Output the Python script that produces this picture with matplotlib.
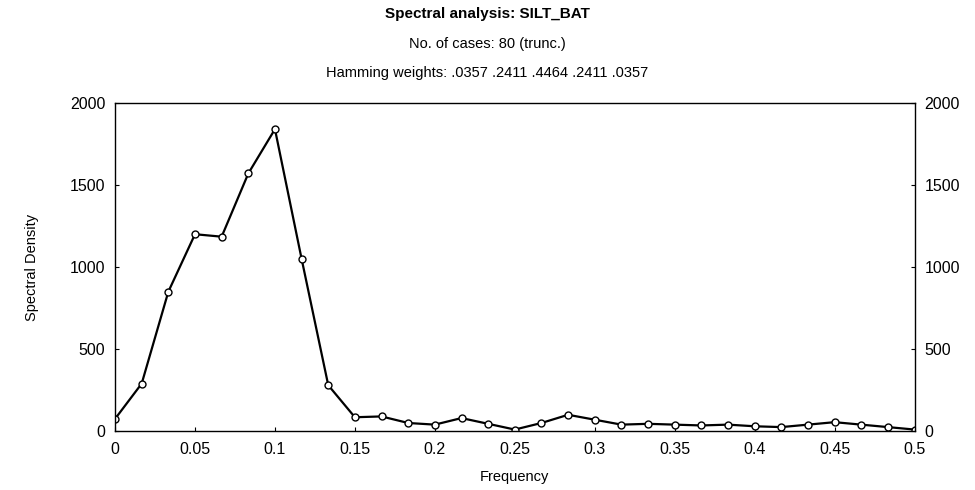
import matplotlib.pyplot as plt

plt.rcParams['font.family'] = ['Liberation Sans', 'DejaVu Sans']

# periodogram frequencies k/60, 0 .. 0.5
n_freq = 31
freq = [k / 60 for k in range(n_freq)]
density = [75, 290, 850, 1200, 1185, 1570, 1840, 1050, 280, 85,
           90, 50, 40, 80, 45, 10, 50, 100, 70, 40,
           45, 40, 35, 40, 30, 25, 40, 55, 40, 25, 10]

x_ticks = [0, 0.05, 0.1, 0.15, 0.2, 0.25, 0.3, 0.35, 0.4, 0.45, 0.5]
x_tick_labels = ['0', '0.05', '0.1', '0.15', '0.2', '0.25', '0.3', '0.35', '0.4', '0.45', '0.5']
y_ticks = [0, 500, 1000, 1500, 2000]

title_lines = ['Spectral analysis: SILT_BAT',
               'No. of cases: 80 (trunc.)',
               'Hamming weights: .0357 .2411 .4464 .2411 .0357']


def main():
    fig = plt.figure(figsize=(9.75, 4.9), dpi=100)
    ax = fig.add_axes([0.118, 0.12, 0.820, 0.670])

    ax.plot(freq, density, '-', color='black', lw=1.6,
            marker='o', ms=5, mfc='white', mec='black', mew=1.0)

    ax.set_xlim(0, 0.5)
    ax.set_ylim(0, 2000)
    ax.set_xticks(x_ticks)
    ax.set_xticklabels(x_tick_labels)
    ax.set_yticks(y_ticks)
    ax.tick_params(direction='in', length=3, labelsize=11.5, width=0.8,
                   right=True, labelright=True, top=False)
    ax.tick_params(axis='x', pad=8)
    ax.tick_params(axis='y', pad=7)
    for s in ax.spines.values():
        s.set_linewidth(1.0)

    ax.set_xlabel('Frequency', fontsize=10.5, labelpad=9)
    ax.set_ylabel('Spectral Density', fontsize=10.5, labelpad=22)

    fig.text(0.5, 0.972, title_lines[0], ha='center', va='center',
             fontsize=11, fontweight='bold')
    fig.text(0.5, 0.910, title_lines[1], ha='center', va='center', fontsize=10.5)
    fig.text(0.5, 0.850, title_lines[2], ha='center', va='center', fontsize=10.5)

    fig.savefig('out.png', dpi=100)


if __name__ == "__main__":
    main()
